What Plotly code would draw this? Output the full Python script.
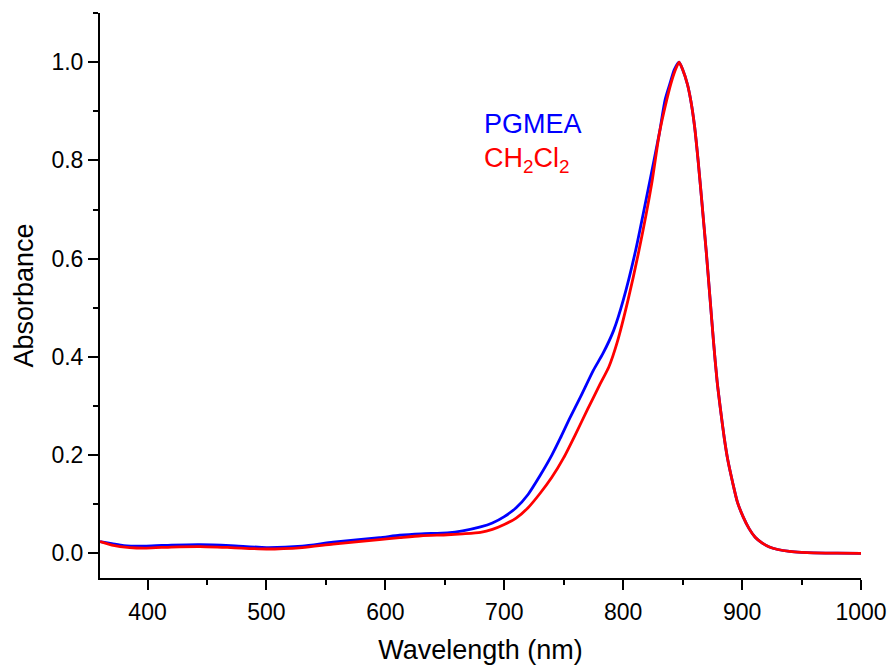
import plotly.graph_objects as go

# PGMEA spectrum (wavelength nm, normalized absorbance)
pgmea_wl = [360, 370, 380, 399, 420, 444, 470, 500, 530, 556, 595, 612, 630, 652, 665,
            680, 690, 700, 710, 720, 730, 740, 747, 755, 764, 775, 783, 792, 800,
            810.5, 822, 830.4, 835.2, 839.4, 843, 847, 850, 854, 857, 860, 863, 866,
            870, 873, 876, 879, 882, 885, 888, 892, 896, 901, 906, 911, 917, 923,
            930, 940, 950, 960, 980, 1000]
pgmea_abs = [0.024, 0.020, 0.016, 0.015, 0.017, 0.018, 0.016, 0.012, 0.015, 0.023, 0.032,
             0.037, 0.040, 0.042, 0.046, 0.054, 0.062, 0.075, 0.093, 0.120, 0.158, 0.200,
             0.234, 0.275, 0.318, 0.373, 0.407, 0.454, 0.515, 0.617, 0.753, 0.855, 0.923,
             0.957, 0.985, 1.0, 0.985, 0.955, 0.92, 0.87, 0.80, 0.72, 0.61, 0.52, 0.43,
             0.35, 0.29, 0.235, 0.19, 0.145, 0.105, 0.074, 0.05, 0.033, 0.021, 0.013,
             0.008, 0.004, 0.002, 0.001, 0.0005, 0.0]

# CH2Cl2 spectrum
dcm_wl = [360, 370, 385, 399, 420, 444, 470, 500, 530, 556, 595, 612, 630, 652, 665,
          680, 690, 700, 710, 720, 730, 740, 750, 760, 770, 780, 788, 795, 804,
          813.3, 824, 830.4, 836.6, 840.2, 844, 847, 850, 854, 857, 860, 863, 866,
          870, 873, 876, 879, 882, 885, 888, 892, 896, 901, 906, 911, 917, 923,
          930, 940, 950, 960, 980, 1000]
dcm_abs = [0.024, 0.017, 0.012, 0.011, 0.013, 0.014, 0.012, 0.009, 0.012, 0.019, 0.028,
           0.032, 0.036, 0.038, 0.040, 0.043, 0.049, 0.059, 0.072, 0.093, 0.122, 0.155,
           0.195, 0.243, 0.293, 0.342, 0.380, 0.430, 0.515, 0.617, 0.753, 0.855,
           0.923, 0.957, 0.985, 1.0, 0.985, 0.955, 0.92, 0.87, 0.80, 0.72, 0.61, 0.52,
           0.43, 0.35, 0.29, 0.235, 0.19, 0.145, 0.105, 0.074, 0.05, 0.033, 0.021, 0.013,
           0.008, 0.004, 0.002, 0.001, 0.0005, 0.0]

series_names = ["PGMEA", "CH<sub>2</sub>Cl<sub>2</sub>"]
series_colors = ["#0000ff", "#ff0000"]

FONT = "Liberation Sans, Arial, sans-serif"

fig = go.Figure()
fig.add_trace(go.Scatter(x=pgmea_wl, y=pgmea_abs, mode="lines", name=series_names[0],
                         line=dict(color=series_colors[0], width=2.8, shape="spline", smoothing=0.6)))
fig.add_trace(go.Scatter(x=dcm_wl, y=dcm_abs, mode="lines", name=series_names[1],
                         line=dict(color=series_colors[1], width=2.8, shape="spline", smoothing=0.6)))

fig.add_annotation(x=681, y=0.874, xref="x", yref="y", text=series_names[0], showarrow=False,
                   xanchor="left", yanchor="middle",
                   font=dict(family=FONT, size=27, color=series_colors[0]))
fig.add_annotation(x=681, y=0.800, xref="x", yref="y", text=series_names[1], showarrow=False,
                   xanchor="left", yanchor="middle",
                   font=dict(family=FONT, size=27, color=series_colors[1]))

axis_common = dict(
    showline=True, linecolor="black", linewidth=2,
    ticks="outside", ticklen=10, tickwidth=2, tickcolor="black",
    showgrid=False, zeroline=False, mirror=False,
    tickfont=dict(family=FONT, size=23, color="black"),
)

fig.update_xaxes(range=[360, 1000], tick0=0, dtick=100, ticklabelstandoff=2,
                 minor=dict(ticks="outside", ticklen=5, tickwidth=2, tickcolor="black", dtick=50, tick0=0),
                 title=dict(text="Wavelength (nm)", font=dict(family=FONT, size=27, color="black"), standoff=20),
                 **axis_common)
fig.update_yaxes(range=[-0.05, 1.1], tick0=0, dtick=0.2, tickformat=".1f",
                 minor=dict(ticks="outside", ticklen=5, tickwidth=2, tickcolor="black", dtick=0.1, tick0=0),
                 title=dict(text="Absorbance", font=dict(family=FONT, size=27, color="black"), standoff=10),
                 **axis_common)

fig.update_layout(
    width=889, height=665,
    margin=dict(l=100, r=28, t=13, b=87, autoexpand=False),
    plot_bgcolor="white", paper_bgcolor="white",
    showlegend=False,
)

fig.write_html("out.html", config={"displayModeBar": False},
               post_script="document.body.style.margin='0';document.body.style.overflow='hidden';")
